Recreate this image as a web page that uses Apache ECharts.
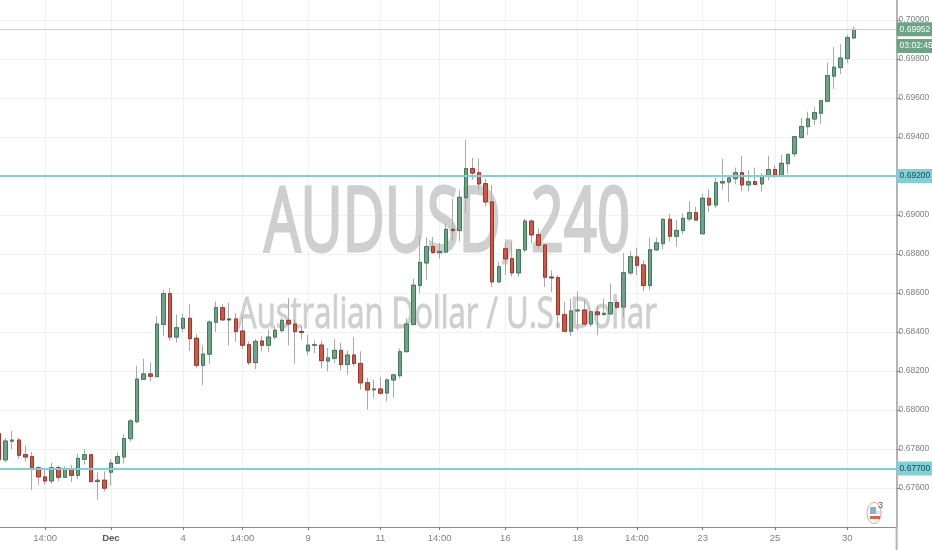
<!DOCTYPE html>
<html>
<head>
<meta charset="utf-8">
<style>html,body{margin:0;padding:0;background:#fff}#c{width:932px;height:550px}</style>
<script src="https://cdn.jsdelivr.net/npm/echarts@6/dist/echarts.min.js"></script>
</head>
<body>
<div id="c"></div>
<script>
const opens = [
0.67879,0.67744,0.67840,0.67846,0.67771,0.67761,0.67704,0.67657,0.67636,0.67704,
0.67655,0.67694,0.67665,0.67747,0.67771,0.67633,0.67640,0.67681,0.67727,0.67759,
0.67853,0.67940,0.68157,0.68185,0.68171,0.68439,0.68597,0.68374,0.68419,0.68470,
0.68368,0.68229,0.68286,0.68450,0.68525,0.68467,0.68467,0.68405,0.68335,0.68243,
0.68354,0.68332,0.68374,0.68407,0.68460,0.68441,0.68403,0.68303,0.68332,0.68333,
0.68251,0.68265,0.68306,0.68233,0.68282,0.68239,0.68140,0.68103,0.68108,0.68087,
0.68154,0.68176,0.68299,0.68438,0.68638,0.68754,0.68838,0.68807,0.68810,0.68927,
0.68920,0.69089,0.69238,0.69217,0.69161,0.69067,0.68657,0.68827,0.68776,0.68703,
0.68821,0.68969,0.68899,0.68846,0.68682,0.68679,0.68489,0.68404,0.68508,0.68513,
0.68441,0.68503,0.68489,0.68493,0.68551,0.68528,0.68703,0.68785,0.68744,0.68638,
0.68821,0.68853,0.68978,0.68891,0.68920,0.68980,0.69012,0.68904,0.69086,0.69051,
0.69164,0.69169,0.69186,0.69217,0.69154,0.69171,0.69159,0.69197,0.69233,0.69203,
0.69263,0.69314,0.69397,0.69453,0.69492,0.69522,0.69583,0.69712,0.69756,0.69802,
0.69908];
const closes = [
0.67745,0.67841,0.67846,0.67768,0.67759,0.67701,0.67657,0.67636,0.67704,0.67655,
0.67696,0.67665,0.67752,0.67771,0.67633,0.67640,0.67599,0.67728,0.67761,0.67853,
0.67944,0.68159,0.68185,0.68173,0.68441,0.68597,0.68374,0.68422,0.68470,0.68366,
0.68229,0.68287,0.68451,0.68525,0.68462,0.68462,0.68402,0.68332,0.68243,0.68352,
0.68332,0.68374,0.68409,0.68460,0.68441,0.68402,0.68398,0.68333,0.68335,0.68253,
0.68267,0.68306,0.68233,0.68282,0.68239,0.68139,0.68103,0.68108,0.68086,0.68154,
0.68180,0.68299,0.68441,0.68640,0.68757,0.68838,0.68807,0.68814,0.68927,0.68920,
0.69091,0.69238,0.69215,0.69159,0.69067,0.68657,0.68735,0.68775,0.68703,0.68822,
0.68969,0.68898,0.68845,0.68681,0.68677,0.68489,0.68404,0.68508,0.68513,0.68441,
0.68504,0.68489,0.68496,0.68551,0.68527,0.68704,0.68786,0.68742,0.68638,0.68822,
0.68857,0.68978,0.68891,0.68921,0.68983,0.69012,0.68974,0.69086,0.69051,0.69166,
0.69171,0.69190,0.69217,0.69154,0.69171,0.69157,0.69198,0.69233,0.69205,0.69265,
0.69311,0.69402,0.69454,0.69493,0.69525,0.69586,0.69715,0.69758,0.69805,0.69910,
0.69952];
const highs = [
0.67900,0.67857,0.67892,0.67857,0.67817,0.67785,0.67711,0.67691,0.67728,0.67715,
0.67711,0.67718,0.67776,0.67800,0.67775,0.67682,0.67686,0.67749,0.67781,0.67874,
0.67954,0.68226,0.68263,0.68243,0.68480,0.68617,0.68626,0.68489,0.68494,0.68542,
0.68390,0.68330,0.68463,0.68556,0.68542,0.68549,0.68497,0.68480,0.68352,0.68364,
0.68378,0.68412,0.68433,0.68472,0.68574,0.68463,0.68433,0.68386,0.68356,0.68356,
0.68318,0.68364,0.68344,0.68304,0.68374,0.68301,0.68164,0.68156,0.68169,0.68164,
0.68186,0.68315,0.68470,0.68674,0.68894,0.68887,0.68887,0.68857,0.68956,0.69084,
0.69130,0.69386,0.69294,0.69289,0.69186,0.69152,0.68759,0.68862,0.68862,0.68827,
0.68981,0.68976,0.68930,0.68853,0.68716,0.68691,0.68554,0.68571,0.68609,0.68563,
0.68511,0.68537,0.68571,0.68648,0.68563,0.68805,0.68816,0.68833,0.68768,0.68884,
0.68884,0.68981,0.69007,0.68976,0.69007,0.69070,0.69041,0.69109,0.69130,0.69192,
0.69289,0.69203,0.69243,0.69304,0.69229,0.69243,0.69215,0.69304,0.69255,0.69308,
0.69314,0.69403,0.69497,0.69530,0.69553,0.69590,0.69783,0.69861,0.69875,0.69925,
0.69966];
const lows = [
0.67730,0.67732,0.67800,0.67749,0.67737,0.67590,0.67617,0.67617,0.67622,0.67634,
0.67652,0.67631,0.67646,0.67720,0.67629,0.67540,0.67583,0.67612,0.67723,0.67725,
0.67838,0.67932,0.68154,0.68147,0.68169,0.68378,0.68356,0.68345,0.68398,0.68303,
0.68214,0.68128,0.68238,0.68400,0.68458,0.68330,0.68349,0.68313,0.68231,0.68210,
0.68298,0.68298,0.68361,0.68398,0.68332,0.68238,0.68361,0.68279,0.68292,0.68214,
0.68198,0.68241,0.68204,0.68181,0.68224,0.68104,0.68002,0.68060,0.68079,0.68045,
0.68063,0.68163,0.68296,0.68435,0.68600,0.68669,0.68802,0.68776,0.68805,0.68867,
0.68865,0.69012,0.69181,0.69127,0.69045,0.68631,0.68651,0.68694,0.68686,0.68682,
0.68810,0.68853,0.68822,0.68631,0.68605,0.68426,0.68400,0.68380,0.68409,0.68434,
0.68426,0.68383,0.68486,0.68486,0.68520,0.68477,0.68693,0.68691,0.68609,0.68614,
0.68816,0.68824,0.68863,0.68839,0.68901,0.68969,0.68973,0.68901,0.69015,0.69036,
0.69130,0.69067,0.69157,0.69120,0.69120,0.69155,0.69120,0.69178,0.69190,0.69200,
0.69212,0.69298,0.69393,0.69410,0.69461,0.69468,0.69581,0.69647,0.69722,0.69780,
0.69905];
const tickSlots  = [7,17,28,37,47,58,67,77,88,97,107,118,129];
const tickLabels = ['14:00','Dec','4','14:00','9','11','14:00','16','18','14:00','23','25','30'];
const emptySlots = 6;
const lastPrice = 0.69952;
const levels = [0.692, 0.677];
const countdown = '03:02:45';
const countdownAt = 0.69867;
const symbolName = 'AUDUSD, 240';
const symbolDesc = 'Australian Dollar / U.S. Dollar';

const FONT = '"Liberation Sans",sans-serif';
const WM_FONT = '"Open Sans",sans-serif';
const categories = [];
for (let i = 0; i < opens.length + emptySlots; i++) {
  const k = tickSlots.indexOf(i);
  categories.push(k >= 0 ? tickLabels[k] : '');
}
const wickData = opens.map((o, i) => [o, closes[i], lows[i], highs[i]]);
const bodyData = opens.map((o, i) => [o, closes[i], Math.min(o, closes[i]), Math.max(o, closes[i])]);
const isTick = (idx, val) => val !== '';
const priceLabel = (text, bg, color, value) => ({
  yAxis: value,
  label: {show: true, position: 'end', distance: 0, formatter: text, backgroundColor: bg, color: color,
          fontFamily: FONT, fontSize: 8.5, padding: [3, 2, 2, 3], width: 31, align: 'left'}
});
const fitScale = (text, font, target) => {
  const c = document.createElement('canvas').getContext('2d');
  c.font = font;
  return target / c.measureText(text).width;
};

const chart = echarts.init(document.getElementById('c'), null, {renderer: 'canvas'});
chart.setOption({
  animation: false,
  backgroundColor: '#ffffff',
  grid: {left: -4.2, right: 35.4, top: -19, bottom: 23, containLabel: false, outerBoundsMode: 'none'},
  xAxis: {
    type: 'category',
    data: categories,
    boundaryGap: true,
    axisLine: {show: true, lineStyle: {color: '#8a8a8a', width: 1}},
    axisTick: {show: true, alignWithLabel: true, interval: isTick, length: 3, lineStyle: {color: '#777'}},
    axisLabel: {show: true, interval: 0, hideOverlap: false, margin: 6, color: '#808080', fontSize: 9.5, fontFamily: FONT,
      formatter: v => v === 'Dec' ? '{b|Dec}' : v,
      rich: {b: {fontWeight: 'bold', color: '#5a5a5a', fontSize: 9.5, fontFamily: FONT}}},
    splitLine: {show: true, alignWithLabel: true, interval: isTick, lineStyle: {color: '#f1f1f1', width: 1}}
  },
  yAxis: {
    type: 'value',
    position: 'right',
    min: 0.674,
    max: 0.702,
    interval: 0.002,
    scale: true,
    axisLine: {show: true, lineStyle: {color: '#b4b4b4', width: 2}},
    axisTick: {show: true, length: 4, lineStyle: {color: '#8a8a8a'}},
    axisLabel: {show: true, margin: 2, color: '#808080', fontSize: 8.5, fontFamily: FONT, showMinLabel: false,
      formatter: v => v.toFixed(5)},
    splitLine: {show: true, lineStyle: {color: '#f1f1f1', width: 1}}
  },
  series: [
    {
      type: 'candlestick', data: wickData, barWidth: 4, silent: true, z: 3,
      itemStyle: {color: '#6ba583', color0: '#d75442', borderColor: '#a9a9ab', borderColor0: '#a9a9ab', borderWidth: 1}
    },
    {
      type: 'candlestick', data: bodyData, barWidth: 4, silent: true, z: 4,
      itemStyle: {color: '#6ba583', color0: '#d75442', borderColor: '#44785c', borderColor0: '#97392b', borderWidth: 1},
      markLine: {
        silent: true, symbol: 'none', animation: false, precision: 5,
        data: [
          Object.assign(priceLabel(lastPrice.toFixed(5), '#6ba583', '#ffffff', lastPrice), {lineStyle: {color: '#bcd6c8', width: 1, type: 'solid'}}),
          Object.assign(priceLabel(countdown, '#6ba583', '#ffffff', countdownAt), {lineStyle: {color: 'rgba(0,0,0,0)'}}),
          Object.assign(priceLabel(levels[0].toFixed(5), '#7fd0d8', '#1f4a4f', levels[0]), {lineStyle: {color: '#7fd0d8', width: 2, type: 'solid'}}),
          Object.assign(priceLabel(levels[1].toFixed(5), '#7fd0d8', '#1f4a4f', levels[1]), {lineStyle: {color: '#7fd0d8', width: 2, type: 'solid'}})
        ]
      }
    }
  ],
  graphic: [
    {type: 'text', z: 1, silent: true, x: 447, y: 225, scaleX: fitScale(symbolName, '90px "Open Sans"', 366),
      style: {text: symbolName, fill: '#cfcfcf', stroke: '#cfcfcf', lineWidth: 3, fontFamily: WM_FONT, fontSize: 90, align: 'center', verticalAlign: 'middle'}},
    {type: 'text', z: 1, silent: true, x: 447, y: 316, scaleX: fitScale(symbolDesc, '43px "Open Sans"', 420),
      style: {text: symbolDesc, fill: '#cfcfcf', stroke: '#cfcfcf', lineWidth: 1, fontFamily: WM_FONT, fontSize: 43, align: 'center', verticalAlign: 'middle'}},
    {type: 'rect', z: 5, silent: true, shape: {x: 895.6, y: 527, width: 2, height: 23}, style: {fill: '#b4b4b4'}},
    {type: 'group', z: 5, silent: true, children: [
      {type: 'ellipse', shape: {cx: 874, cy: 513, rx: 7, ry: 10.5}, style: {fill: '#ffffff', stroke: '#e0a48a', lineWidth: 1}},
      {type: 'rect', shape: {x: 870, y: 507, width: 6, height: 7}, style: {fill: '#7fb5d5'}},
      {type: 'rect', shape: {x: 876, y: 511, width: 4, height: 3}, style: {fill: '#e5e5e5'}},
      {type: 'rect', shape: {x: 870, y: 516, width: 10, height: 3}, style: {fill: '#e0604e'}},
      {type: 'text', x: 880.5, y: 506, style: {text: '3', fill: '#555', fontSize: 9, fontFamily: FONT, align: 'center', verticalAlign: 'middle'}}
    ]}
  ]
});
</script>
</body>
</html>
